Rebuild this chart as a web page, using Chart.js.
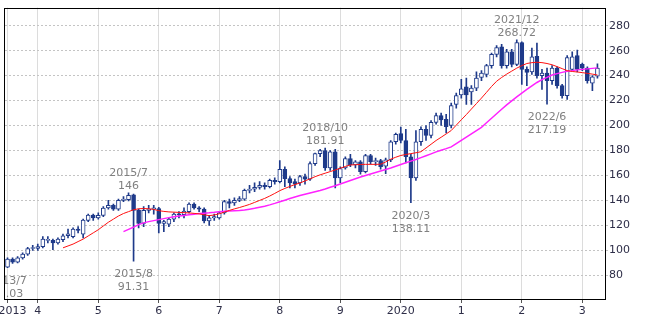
<!DOCTYPE html>
<html>
<head>
<meta charset="utf-8">
<script src="https://cdn.jsdelivr.net/npm/chart.js@4.4.0/dist/chart.umd.min.js"></script>
<style>
    html, body { margin: 0; padding: 0; background: #fff; }
</style>
</head>
<body>
<canvas id="price-chart" width="650" height="325"></canvas>
<script>
// Monthly candles, 2013/7 .. 2023/4 (one spare slot at the end)
const firstYear = 2013;
const firstMonth = 7;
const slotCount = 119;

const months = [];
for (let k = 0; k < slotCount; k++) {
    const m = firstMonth - 1 + k;
    months.push(`${firstYear + Math.floor(m / 12)}/${(m % 12) + 1}`);
}

const opens = [
    86.5, 93, 90.5, 94, 97, 101.5,
    101.5, 103, 108, 108, 106, 108.5, 111.7, 111, 117, 113, 124, 128.2,
    126, 128, 134, 136, 133, 140, 140.5, 144.5, 132, 121.5, 132, 133,
    133.5, 121.5, 121, 125, 129, 128.5, 131, 137, 134, 133, 123.5, 126,
    126, 130, 139, 138, 140, 141, 148, 149, 150.5, 152, 151, 156,
    155, 165, 157.5, 155, 154, 159, 157, 169.5, 177.5, 180, 166, 179,
    158, 166, 173.5, 168.5, 171, 163, 176, 171, 172, 167.5, 172.5, 187,
    193.5, 188, 175, 158, 187, 197, 192, 202.5, 208, 205, 200, 217,
    224.5, 231, 227, 230, 238.5, 241, 248, 257, 263, 248, 259, 249,
    266.5, 245, 243, 255.5, 240, 242, 236, 246, 232, 224, 245, 256,
    249, 246, 234, 239.5
];
const highs = [
    94, 94, 95, 98, 102.5, 104,
    105, 111, 111, 109, 110, 113, 117, 118, 119, 125, 129, 129,
    130, 135, 140, 137, 141, 143, 146, 145, 133, 135, 136, 136,
    134.5, 124, 126, 130, 131, 134, 138, 138, 135, 134, 128, 129,
    131, 140, 141, 142, 143, 149, 152, 154, 155, 154, 157, 158,
    172, 167, 159, 157, 160, 161, 171, 178, 181, 181.91, 180, 181,
    167, 175, 177, 172, 172, 177, 177, 174, 173, 174, 188, 194,
    198.7, 197, 177, 196, 199, 200, 204, 210, 210, 209, 218, 226,
    237, 238, 232, 243, 244, 249, 258, 264, 265, 261, 261, 268.72,
    267, 247, 262, 266, 245, 246, 248, 247, 233, 256, 259, 260.5,
    250, 247, 240, 249.5
];
const lows = [
    86.03, 89.5, 90, 93, 96, 100,
    100, 102, 106, 100.6, 105, 107, 110, 110, 114, 110, 123, 124,
    125, 127, 133, 132, 132, 139, 139.5, 91.31, 118, 119, 130, 129,
    114, 115, 119, 123, 126, 126, 130, 133, 131, 122, 120, 124,
    125, 129, 134, 136, 139, 140, 146, 147, 149, 149, 150, 153,
    154, 151, 150, 150, 152, 153, 156, 168, 175, 164, 164, 150,
    154, 165, 167, 166, 161, 162, 169, 168, 165, 161.5, 171, 185,
    186, 170, 138.11, 156, 184, 188, 190, 201, 200, 194, 198, 214,
    222, 217, 217, 228, 236, 239, 246, 255, 246, 246, 247, 248,
    233, 232, 241, 238, 229, 217.19, 233, 230, 222, 221, 244, 243,
    244, 234, 228, 238
];
const closes = [
    93, 90.5, 94, 97, 101.5, 102,
    103, 109, 108.5, 106, 109, 111.7, 113.2, 117, 116, 124.3, 128.2, 126,
    128, 133.8, 136, 133, 140, 141, 144, 132, 121.5, 132, 133, 134,
    121.5, 123, 125, 129, 128.5, 131.5, 137, 134, 133, 123.5, 126, 127,
    130, 139, 137.5, 140, 141.5, 148, 149, 150.5, 152, 151, 156, 155,
    165, 157.5, 154, 153, 159, 157, 169.5, 177.5, 180, 166, 179, 158,
    165.5, 173.5, 168.5, 171, 163, 176, 171, 172, 167, 172.5, 187, 193,
    188, 175, 158, 187, 197, 192, 202.5, 208, 204.5, 199, 216, 224,
    229.5, 224.5, 230, 238, 242, 248, 257, 262.5, 248, 259, 249, 266.5,
    245, 242.5, 255, 240, 242, 236, 246, 232, 224, 254.5, 255, 245,
    246, 236, 239, 246
];

// 12-month average (red)
const avgShort = [
    null, null, null, null, null, null,
    null, null, null, null, null, 102, 103.5, 105, 107, 109, 111.5, 114,
    116.5, 119.5, 122.5, 125, 127.5, 129.5, 131, 132.5, 133.3, 133.5, 133.3, 132.8,
    131.8, 131.2, 130.8, 130.6, 130.4, 130.2, 130, 129.6, 129.2, 128.5, 127.8, 128.3,
    129.3, 130.6, 132, 133.2, 134.3, 135.5, 136.8, 138.4, 140, 141.6, 143.5, 145.6,
    147.8, 149.6, 151.2, 152.7, 154, 155.6, 157.3, 159, 160.5, 161.8, 163.1, 164.4,
    165.8, 167.2, 168.4, 168.6, 168.8, 168.9, 168.9, 168.9, 169, 170.8, 173, 174.6,
    176, 176.8, 177.5, 178.2, 179, 182, 185, 188, 190.6, 193.3, 196, 200.3,
    204.6, 208.8, 213.2, 217.6, 222, 226.6, 231.3, 235.5, 238.5, 241.2, 243.6, 246,
    248, 249.7, 250.4, 250.7, 250.4, 249.7, 248.7, 247.2, 245.6, 244, 243.3, 242.9,
    242.4, 241.8, 241.2, 240.5
];
// 24-month average (magenta)
const avgLong = [
    null, null, null, null, null, null,
    null, null, null, null, null, null, null, null, null, null, null, null,
    null, null, null, null, null, 115, 116.8, 118.6, 120.6, 122, 123, 123.8,
    124.6, 125.4, 126.2, 126.9, 127.5, 128, 128.5, 129, 129.5, 129.8, 130.1, 130.5,
    131, 131.3, 131.5, 131.7, 131.9, 132.3, 133, 133.7, 134.5, 135.3, 136.4, 137.6,
    138.9, 140.2, 141.5, 142.8, 144, 145, 146, 147, 148, 149.2, 150.5, 151.8,
    153.2, 154.6, 156, 157.4, 158.7, 160, 161.2, 162.4, 163.6, 164.8, 166, 167.4,
    168.8, 170.2, 171.5, 172.8, 174.3, 175.8, 177.3, 178.9, 180.2, 181.5, 182.9, 185.5,
    188.2, 190.8, 193.4, 196, 198.6, 202.2, 205.8, 209.4, 213, 216.5, 219.8, 223,
    226, 229, 231.8, 234.5, 236.8, 238.6, 240.5, 241.6, 242.6, 243.5, 244, 244.6,
    245, 245.4, 245.8, 246.2
];

const yTicks = [80, 100, 120, 140, 160, 180, 200, 220, 240, 260, 280];
const yearTickMonths = ['2014/1', '2015/1', '2016/1', '2017/1', '2018/1', '2019/1', '2020/1', '2021/1', '2022/1', '2023/1'];
const yearTickText = ['4', '5', '6', '7', '8', '9', '2020', '1', '2', '3'];
const startTickText = '2013';

const peakMonths = ['2015/7', '2018/10', '2021/12'];
const troughMonths = ['2013/7', '2015/8', '2020/3', '2022/6'];

const candleColor = '#1e3a8a';
const noteColor = '#808080';
const axisTextColor = '#2e2e48';

Chart.defaults.font.family = "'DejaVu Sans', Verdana, sans-serif";
Chart.defaults.font.size = 11;

function isGridSlot(i) {
    return i === 0 || yearTickMonths.includes(months[i]);
}

function tickText(i) {
    if (i === 1) return startTickText;
    const k = yearTickMonths.indexOf(months[i]);
    return k >= 0 ? yearTickText[k] : '';
}

// frame round the plot + high / low notes
const framePlugin = {
    id: 'frame',
    afterDraw(chart) {
        const { ctx, chartArea } = chart;
        const { left, top, right, bottom } = chartArea;
        const xs = chart.scales.x;
        const ys = chart.scales.y;

        ctx.save();
        ctx.beginPath();
        ctx.rect(left, top, right - left, bottom - top);
        ctx.clip();
        ctx.fillStyle = noteColor;
        ctx.font = "11px 'DejaVu Sans', Verdana, sans-serif";
        ctx.textAlign = 'center';
        ctx.textBaseline = 'alphabetic';

        peakMonths.forEach(m => {
            const i = months.indexOf(m);
            const x = xs.getPixelForValue(i);
            const y = ys.getPixelForValue(highs[i]);
            ctx.fillText(m, x, y - 17);
            ctx.fillText(String(highs[i]), x, y - 4);
        });
        troughMonths.forEach(m => {
            const i = months.indexOf(m);
            const x = xs.getPixelForValue(i);
            const y = ys.getPixelForValue(lows[i]);
            ctx.fillText(m, x, y + 16);
            ctx.fillText(String(lows[i]), x, y + 29);
        });
        ctx.restore();

        ctx.save();
        ctx.strokeStyle = '#000';
        ctx.lineWidth = 1;
        ctx.strokeRect(Math.round(left) - 0.5, Math.round(top) + 0.5,
            Math.round(right - left) + 1, Math.round(bottom - top));
        ctx.restore();
    }
};

const chartCtx = document.getElementById('price-chart').getContext('2d');

new Chart(chartCtx, {
    type: 'bar',
    data: {
        labels: months,
        datasets: [
            {
                type: 'line',
                data: avgShort,
                borderColor: '#ff1010',
                borderWidth: 1,
                pointRadius: 0,
                tension: 0,
                order: 0
            },
            {
                type: 'line',
                data: avgLong,
                borderColor: '#ff22ff',
                borderWidth: 1.5,
                pointRadius: 0,
                tension: 0,
                order: 0
            },
            {
                type: 'bar',
                data: opens.map((o, i) => [o, closes[i]]),
                backgroundColor: opens.map((o, i) => closes[i] < o ? candleColor : '#ffffff'),
                borderColor: candleColor,
                borderWidth: 1,
                borderSkipped: false,
                barThickness: 4,
                minBarLength: 1,
                grouped: false,
                order: 1
            },
            {
                type: 'bar',
                data: lows.map((l, i) => [l, highs[i]]),
                backgroundColor: candleColor,
                barThickness: 1,
                grouped: false,
                order: 2
            }
        ]
    },
    options: {
        responsive: false,
        animation: false,
        layout: {
            padding: { left: 5, top: 4, right: 0, bottom: 0 }
        },
        plugins: {
            legend: { display: false },
            tooltip: { enabled: false }
        },
        scales: {
            x: {
                type: 'category',
                offset: true,
                grid: {
                    offset: false,
                    lineWidth: 1,
                    tickLength: 4,
                    color: c => isGridSlot(c.index) ? '#dcdcdc' : 'rgba(0,0,0,0)',
                    tickColor: c => isGridSlot(c.index) ? '#555' : 'rgba(0,0,0,0)'
                },
                border: { display: false },
                ticks: {
                    autoSkip: false,
                    maxRotation: 0,
                    minRotation: 0,
                    padding: 2,
                    color: axisTextColor,
                    callback: (v, i) => tickText(i)
                },
                afterFit: s => { s.height = 26; }
            },
            y: {
                position: 'right',
                min: 61,
                max: 294.5,
                afterBuildTicks: s => { s.ticks = yTicks.map(v => ({ value: v })); },
                grid: {
                    color: '#c4c4c4',
                    lineWidth: 1,
                    tickLength: 3
                },
                border: { display: false, dash: [2, 2] },
                ticks: {
                    padding: 1,
                    color: axisTextColor,
                    callback: v => v
                },
                afterFit: s => { s.width = 45; }
            }
        }
    },
    plugins: [framePlugin]
});
</script>
</body>
</html>
